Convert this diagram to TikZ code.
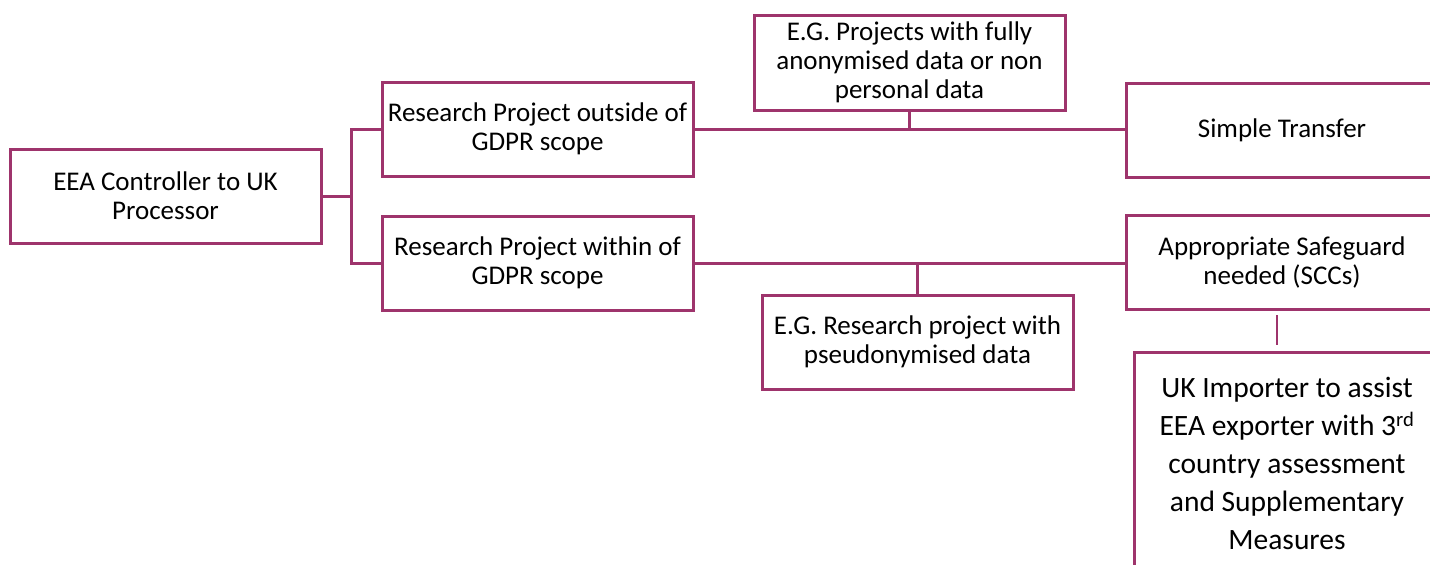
\documentclass[tikz,border=0pt]{standalone}
\usepackage{fontspec}
\setmainfont{Carlito}
\usepackage{tikz}
\usetikzlibrary{positioning}
\definecolor{plum}{RGB}{158,52,108}

\begin{document}
\begin{tikzpicture}[x=1pt,y=-1pt,
                box/.style={draw=plum, line width=3pt, fill=white, align=center,
                            minimum width=311pt, minimum height=94pt, inner sep=0pt,
                            font=\fontsize{27}{29}\selectfont},
                link/.style={draw=plum, line width=3pt}]
                \useasboundingbox (0,0) rectangle (1430,565);
                \clip (0,0) rectangle (1430,565);
                \node[box] (ctrl) at (165.5,196) {EEA Controller to UK\\Processor};
                \node[box] (outside) at (537.5,129) {Research Project outside of\\GDPR scope};
                \node[box] (within) at (537.5,263) {Research Project within of\\GDPR scope};
                \node[box, minimum height=95pt] (eg_anon) at (909.5,62.5) {E.G. Projects with fully\\anonymised data or non\\personal data};
                \node[box] (eg_pseudo) at (917.5,342) {E.G. Research project with\\pseudonymised data};
                \node[box, minimum width=312pt] (simple) at (1282,130) {Simple Transfer};
                \node[box, minimum width=312pt] (safeguard) at (1282,262) {Appropriate Safeguard\\needed (SCCs)};
                \node[box, minimum width=306pt, minimum height=222pt,
                      font=\fontsize{29.5}{38}\selectfont] (importer) at (1287,463)
                      {UK Importer to assist\\EEA exporter with 3\textsuperscript{rd}\\country assessment\\and Supplementary\\Measures};
                \coordinate (split) at (351,196);
                \coordinate (gap_top) at (1277,315);
                \coordinate (gap_bot) at (1277,345);
                \draw[link] (ctrl.east) -- (split);
                \draw[link] (split) |- (outside.west);
                \draw[link] (split) |- (within.west);
                \draw[link] (outside.east) -- (simple.west |- outside.east);
                \draw[link] (within.east) -- (safeguard.west |- within.east);
                \draw[link] (eg_anon.south) -- (eg_anon.south |- outside.east);
                \draw[link] (eg_pseudo.north) -- (eg_pseudo.north |- within.east);
                \draw[link, line width=1.5pt] (gap_top) -- (gap_bot);
\end{tikzpicture}
\end{document}
